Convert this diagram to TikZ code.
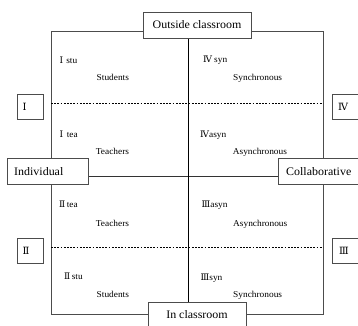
\documentclass[tikz,border=0pt]{standalone}
\usepackage{fontspec}
\setmainfont[FakeStretch=1.04]{Liberation Serif}
\newfontfamily\numf{DejaVu Serif}
\usetikzlibrary{backgrounds}
\tikzset{
  frame/.style={draw=black!70, line width=0.6pt},
  axis/.style={draw=black, line width=1pt},
  midline/.style={draw=black!80, line width=0.6pt},
  dashline/.style={draw=black, line width=0.5pt, dash pattern=on 1.8pt off 1.4pt},
  bigbox/.style={draw=black!70, fill=white, line width=0.6pt, inner sep=0pt,
    minimum height=26pt, font=\fontsize{11.5}{12}\selectfont},
  numbox/.style={draw=black!70, fill=white, line width=0.6pt, inner sep=0pt,
    minimum width=26pt, minimum height=25pt},
  numtxt/.style={anchor=west, inner sep=0pt, font=\numf\fontsize{10}{11}\selectfont},
  lbl/.style={anchor=base west, inner sep=0pt, font=\fontsize{9}{10}\selectfont},
  nm/.style={anchor=base west, inner sep=0pt, font=\fontsize{9}{10}\selectfont}
}
\newcommand{\rn}[1]{{\numf\fontsize{9}{10}\selectfont #1}}
\begin{document}
\begin{tikzpicture}[x=1pt,y=-1pt]
\useasboundingbox (0,0) rectangle (358,325);
% corners
\coordinate (tl) at (51,31);
\coordinate (tr) at (323,31);
\coordinate (bl) at (51,314);
\coordinate (br) at (323,314);
\coordinate (dl1) at (51,103);
\coordinate (dr1) at (323,103);
\coordinate (dl2) at (51,247);
\coordinate (dr2) at (323,247);
\coordinate (hl) at (51,176);
\coordinate (hr) at (323,176);
% boxes
\node[bigbox, minimum width=108pt] (out) at (197,25) {Outside classroom};
\node[bigbox, minimum width=98pt] (in) at (197,315) {In classroom};
\node[bigbox, minimum width=81pt, anchor=west] (ind) at (7,171.5) {};
\node[anchor=west, inner sep=0pt, font=\fontsize{11.5}{12}\selectfont] (indt) at (14,171.5) {Individual};
\node[bigbox, minimum width=84pt, anchor=west] (col) at (278,171.5) {};
\node[anchor=west, inner sep=0pt, font=\fontsize{11.5}{12}\selectfont] (colt) at (286,171.5) {Collaborative};
\node[numbox] (q1) at (30,106.5) {};
\node[numtxt] (q1t) at (22.5,106.5) {Ⅰ};
\node[numbox] (q2) at (30,251) {};
\node[numtxt] (q2t) at (22.5,251) {Ⅱ};
\node[numbox] (q4) at (345,106.5) {};
\node[numtxt] (q4t) at (338,106.5) {Ⅳ};
\node[numbox] (q3) at (345,251) {};
\node[numtxt] (q3t) at (339,251) {Ⅲ};
% labels
\node[lbl] (a1) at (59.5,63) {\rn{Ⅰ}\hspace{3pt}stu};
\node[nm] (b1) at (96.5,80) {Students};
\node[lbl] (a2) at (59.5,137) {\rn{Ⅰ}\hspace{3.5pt}tea};
\node[nm] (b2) at (95.7,154) {Teachers};
\node[lbl] (a3) at (59,207) {\rn{Ⅱ}\hspace{1.5pt}tea};
\node[nm] (b3) at (95.7,226.5) {Teachers};
\node[lbl] (a4) at (64,279.5) {\rn{Ⅱ}\hspace{1.5pt}stu};
\node[nm] (b4) at (96.5,297) {Students};
\node[lbl] (c1) at (203,62.5) {\rn{Ⅳ}\hspace{2pt}syn};
\node[nm] (d1) at (233,80) {Synchronous};
\node[lbl] (c2) at (200,137) {\rn{Ⅳ}asyn};
\node[nm] (d2) at (232.7,154) {Asynchronous};
\node[lbl] (c3) at (201.5,207) {\rn{Ⅲ}asyn};
\node[nm] (d3) at (233,226.5) {Asynchronous};
\node[lbl] (c4) at (200.5,280) {\rn{Ⅲ}syn};
\node[nm] (d4) at (233,297) {Synchronous};
\begin{scope}[on background layer]
\draw[frame] (tl) -- (tr) -- (br) -- (bl) -- cycle;
\draw[dashline] (dl1) -- (dr1);
\draw[dashline] (dl2) -- (dr2);
\draw[midline] (hl) -- (hr);
\draw[axis] (out.south -| 188,0) -- (in.north -| 188,0);
\end{scope}
\end{tikzpicture}
\end{document}
